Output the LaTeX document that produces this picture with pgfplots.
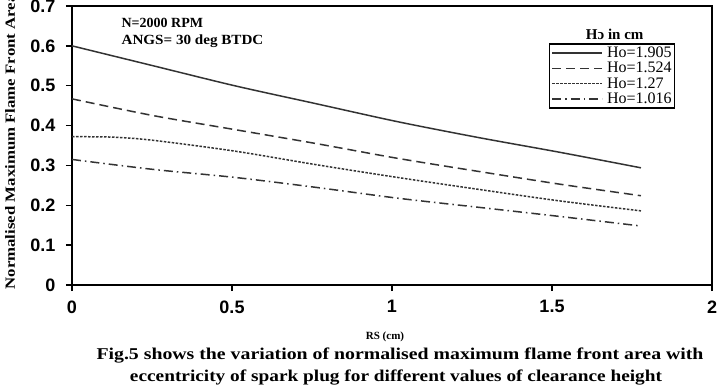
\documentclass[border=0pt]{standalone}
\usepackage{fontspec}
\setmainfont{Liberation Serif}
\newfontfamily\arialfont{Liberation Sans}
\usepackage{pgfplots}
\pgfplotsset{compat=1.18}
\definecolor{lc}{HTML}{333333}
\begin{document}
\begin{tikzpicture}
\path[use as bounding box] (-72pt,-103pt) rectangle (653pt,285pt);
\begin{axis}[
  at={(0pt,0pt)}, anchor=south west,
  scale only axis, width=640pt, height=279pt,
  xmin=0, xmax=2, ymin=0, ymax=0.7,
  xtick={0,0.5,1,1.5,2}, ytick={0,0.1,0.2,0.3,0.4,0.5,0.6,0.7},
  xticklabels={0,0.5,1,1.5,2},
  yticklabels={0,0.1,0.2,0.3,0.4,0.5,0.6,0.7},
  xtick pos=left, ytick pos=left,
  tick align=outside, major tick length=6pt,
  tick style={black, line width=1.3pt},
  axis line style={black, line width=1.6pt},
  ticklabel style={font=\arialfont\bfseries\fontsize{18}{18}\selectfont},
  xticklabel style={yshift=-6pt},
  yticklabel style={xshift=-7pt},
  /pgf/number format/assume math mode=true,
  legend style={at={(rel axis cs:0.745,0.867)}, anchor=north west, draw=black, line width=1.6pt,
    font=\fontsize{16}{16}\selectfont, inner xsep=2pt, inner ysep=2pt, nodes={inner sep=1pt}, row sep=1.2pt,
    /tikz/every odd column/.append style={column sep=3pt}},
  legend cell align=left,
  legend image code/.code={\draw[#1] (4pt,0pt) -- (54pt,0pt);},
]
\addplot[lc, line width=1.5pt, smooth] coordinates {(0,0.600) (0.254,0.550) (0.508,0.500) (0.762,0.455) (1.016,0.410) (1.270,0.370) (1.524,0.333) (1.778,0.294)};
\addlegendentry{Ho=1.905}
\addplot[lc, line width=1.5pt, dash pattern=on 9pt off 5pt, smooth] coordinates {(0,0.467) (0.254,0.425) (0.508,0.390) (0.762,0.355) (1.016,0.318) (1.270,0.285) (1.524,0.253) (1.778,0.224)};
\addlegendentry{Ho=1.524}
\addplot[lc, line width=1.5pt, dash pattern=on 2.5pt off 1.5pt, smooth] coordinates {(0,0.372) (0.127,0.371) (0.254,0.363) (0.508,0.336) (0.762,0.302) (1.016,0.270) (1.270,0.240) (1.524,0.211) (1.778,0.186)};
\addlegendentry{Ho=1.27}
\addplot[lc, line width=1.5pt, dash pattern=on 9pt off 4pt on 1.5pt off 4pt, smooth] coordinates {(0,0.315) (0.254,0.290) (0.508,0.270) (0.762,0.245) (1.016,0.218) (1.270,0.195) (1.524,0.172) (1.778,0.148)};
\addlegendentry{Ho=1.016}
\node[anchor=west, font=\bfseries\fontsize{14}{14}\selectfont] at (rel axis cs:0.072,0.939) {N=2000 RPM};
\node[anchor=west, font=\bfseries\fontsize{14}{14}\selectfont] at (rel axis cs:0.072,0.875) {\scalebox{1.08}[1]{ANGS= 30 deg BTDC}};
\node[font=\bfseries\fontsize{15}{15}\selectfont] at (rel axis cs:0.848,0.898) {Hɔ in cm};
\end{axis}
\node[font=\bfseries\fontsize{11}{11}\selectfont] at (313pt,-52pt) {RS (cm)};
\node[font=\bfseries\fontsize{16.5}{16.5}\selectfont] at (328pt,-71pt) {\scalebox{1.2}[1]{Fig.5 shows the variation of normalised maximum flame front area with}};
\node[font=\bfseries\fontsize{16.5}{16.5}\selectfont] at (324pt,-93pt) {\scalebox{1.17}[1]{eccentricity of spark plug for different values of clearance height}};
\node[rotate=90, anchor=west, font=\bfseries\fontsize{14}{14}\selectfont] at (-62pt,-8pt) {\scalebox{1.2}[1]{Normalised Maximum Flame Front Area}};
\end{tikzpicture}
\end{document}
